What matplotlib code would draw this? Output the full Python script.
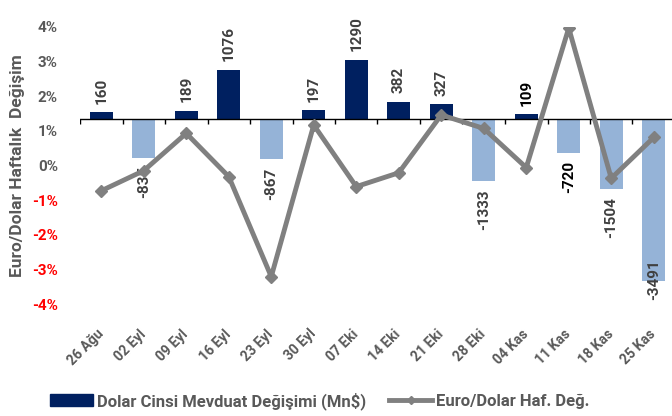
import numpy as np
import matplotlib
matplotlib.use("Agg")
import matplotlib.pyplot as plt

plt.rcParams["font.family"] = ["Roboto", "DejaVu Sans"]
plt.rcParams["font.weight"] = "bold"

weeks = ["26 Ağu", "02 Eyl", "09 Eyl", "16 Eyl", "23 Eyl", "30 Eyl", "07 Eki",
         "14 Eki", "21 Eki", "28 Eki", "04 Kas", "11 Kas", "18 Kas", "25 Kas"]
deposit_chg = [160, -835, 189, 1076, -867, 197, 1290, 382, 327, -1333, 109, -720, -1504, -3491]
eurusd_chg = [-0.73, -0.15, 0.93, -0.32, -3.21, 1.17, -0.61, -0.21, 1.46, 1.07, -0.06, 3.97, -0.37, 0.81]
pct_ticks = [4, 3, 2, 1, 0, -1, -2, -3, -4]

GRAY_TXT = "#595959"
NAVY = "#002060"
LIGHT = "#95B3D7"
LINE = "#808080"

fig = plt.figure(figsize=(6.72, 4.16), dpi=100)
ax = fig.add_axes([80 / 672, 1 - 304 / 416, 595 / 672, 277 / 416])
x = np.arange(len(weeks))

# bars (Mn$) on the primary axes, scale hidden
colors = [NAVY if v >= 0 else LIGHT for v in deposit_chg]
ax.bar(x, deposit_chg, width=0.54, color=colors, zorder=2)
ax.set_ylim(-4000, 2000)
ax.set_xlim(-0.5, len(weeks) - 0.5)
ax.set_yticks([])
for s in ax.spines.values():
    s.set_visible(False)
ax.axhline(0, color="black", lw=1, zorder=3)
ax.vlines(np.arange(len(weeks) + 1) - 0.5, -110, 0, color="black", lw=1, zorder=3)

label_col = {"109": "black", "-720": "black"}
for xi, v in zip(x, deposit_chg):
    txt = str(v)
    kw = dict(rotation=90, ha="center", fontsize=11, fontweight="bold",
              color=label_col.get(txt, "#404040"), zorder=4)
    if v >= 0:
        ax.annotate(txt, (xi, v), xytext=(0, 6), textcoords="offset points", va="bottom", **kw)
    elif v < -3000:
        # label would run out of the plot, Excel pulls it back inside
        ax.annotate(txt, (xi, 0), xycoords=("data", "axes fraction"), xytext=(0, 3),
                    textcoords="offset points", va="bottom", **kw)
    else:
        ax.annotate(txt, (xi, v), xytext=(0, -6), textcoords="offset points", va="top", **kw)

ax.set_xticks(x)
ax.set_xticklabels(weeks, rotation=45, ha="right", va="center", rotation_mode="anchor",
                   fontsize=10, fontweight="bold", color=GRAY_TXT)
ax.tick_params(axis="x", length=0, pad=20)

# weekly EUR/USD change on the twin axes, ticks moved left
ax2 = ax.twinx()
ax2.plot(x, eurusd_chg, color=LINE, lw=3.5, marker="D", markersize=6, zorder=5)
ax2.set_ylim(-4, 4)
ax2.yaxis.tick_left()
ax2.yaxis.set_label_position("left")
ax2.set_yticks(pct_ticks)
ax2.set_yticklabels([f"{t}%" for t in pct_ticks], fontsize=11, fontweight="bold")
for lbl, t in zip(ax2.get_yticklabels(), pct_ticks):
    lbl.set_color("#FF0000" if t < 0 else GRAY_TXT)
ax2.tick_params(axis="y", length=0, pad=16)
for s in ax2.spines.values():
    s.set_visible(False)
ax2.set_ylabel("Euro/Dolar Haftalık  Değişim", fontsize=12.5, fontweight="bold",
               color=GRAY_TXT, labelpad=5)

# legend
h1 = plt.Rectangle((0, 0), 1, 1, color=NAVY)
h2, = ax2.plot([], [], color=LINE, lw=3.5, marker="D", markersize=4)
fig.legend([h1, h2], ["Dolar Cinsi Mevduat Değişimi (Mn$)", "Euro/Dolar Haf. Değ."],
           loc="center left", bbox_to_anchor=(35 / 672, 1 - 401 / 416), ncol=2, frameon=False,
           prop={"size": 12, "weight": "bold"}, labelcolor=GRAY_TXT,
           handlelength=2.6, handleheight=0.75, handletextpad=0.2, columnspacing=1.4)

fig.savefig("out.png", dpi=100)
